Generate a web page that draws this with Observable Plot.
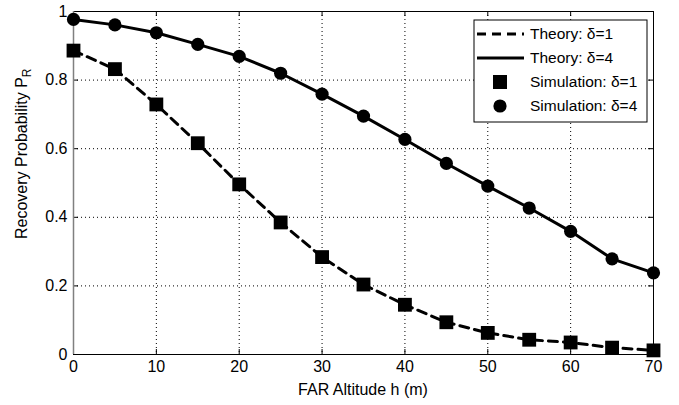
<!DOCTYPE html>
<html>
<head>
<meta charset="utf-8">
<script src="https://cdn.jsdelivr.net/npm/d3@7"></script>
<script src="https://cdn.jsdelivr.net/npm/@observablehq/plot@0.6"></script>
<style>
  html, body { margin: 0; padding: 0; background: #fff; }
</style>
</head>
<body>
<div id="chart"></div>
<script>
// ---- data ----
const altitude = [0, 5, 10, 15, 20, 25, 30, 35, 40, 45, 50, 55, 60, 65, 70];
const theoryD1 = [0.886, 0.832, 0.729, 0.616, 0.496, 0.385, 0.284, 0.204, 0.145, 0.094, 0.063, 0.043, 0.035, 0.020, 0.012];
const theoryD4 = [0.977, 0.961, 0.938, 0.904, 0.869, 0.820, 0.759, 0.695, 0.627, 0.557, 0.491, 0.427, 0.359, 0.279, 0.238];
const simD1    = [0.886, 0.832, 0.729, 0.616, 0.496, 0.385, 0.284, 0.204, 0.145, 0.094, 0.063, 0.043, 0.035, 0.020, 0.012];
const simD4    = [0.977, 0.961, 0.938, 0.904, 0.869, 0.820, 0.759, 0.695, 0.627, 0.557, 0.491, 0.427, 0.359, 0.279, 0.238];
const xTicks = [0, 10, 20, 30, 40, 50, 60, 70];
const yTicks = [0, 0.2, 0.4, 0.6, 0.8, 1];
const legendLabels = ["Theory: δ=1", "Theory: δ=4", "Simulation: δ=1", "Simulation: δ=4"];
const xLabel = "FAR Altitude h (m)";
const yLabel = "Recovery Probability P";
const yLabelSub = "R";

const W = 679, H = 405;
const mL = 73, mR = 26, mT = 11, mB = 51;
const innerW = W - mL - mR, innerH = H - mT - mB;

const rows = (ys) => altitude.map((h, i) => ({h, v: ys[i]}));
const tD1 = rows(theoryD1), tD4 = rows(theoryD4), sD1 = rows(simD1), sD4 = rows(simD4);
const innerX = xTicks.filter(d => d > 0 && d < 70);
const innerY = yTicks.filter(d => d > 0 && d < 1);

const font = "'Liberation Sans', Arial, Helvetica, sans-serif";

const chart = Plot.plot({
  width: W, height: H,
  marginLeft: mL, marginRight: mR, marginTop: mT, marginBottom: mB,
  style: {fontFamily: font, fontSize: "16px", color: "#000", background: "#fff"},
  x: {domain: [0, 70], ticks: xTicks, tickSize: 0, tickPadding: 6, label: null},
  y: {domain: [0, 1], ticks: yTicks, tickSize: 0, tickPadding: 6, tickFormat: d3.format("~g"), label: null},
  marks: [
    Plot.ruleX(innerX, {x: d => d, stroke: "#000", strokeWidth: 1, strokeDasharray: "1,3"}),
    Plot.ruleY(innerY, {y: d => d, stroke: "#000", strokeWidth: 1, strokeDasharray: "1,3"}),
    Plot.tickX(xTicks, {x: d => d, insetTop: innerH - 5, stroke: "#000"}),
    Plot.tickX(xTicks, {x: d => d, insetBottom: innerH - 5, stroke: "#000"}),
    Plot.tickY(yTicks, {y: d => d, insetRight: innerW - 5, stroke: "#000"}),
    Plot.tickY(yTicks, {y: d => d, insetLeft: innerW - 5, stroke: "#000"}),
    Plot.frame({stroke: "#000", strokeWidth: 1}),
    Plot.ruleX([0], {x: d => d, stroke: "#808080", strokeWidth: 1.5}),
    Plot.line(tD1, {x: "h", y: "v", stroke: "#000", strokeWidth: 3, strokeDasharray: "9,6"}),
    Plot.line(tD4, {x: "h", y: "v", stroke: "#000", strokeWidth: 3}),
    Plot.dot(sD1, {x: "h", y: "v", symbol: "square", r: 7.8, fill: "#000", stroke: "none"}),
    Plot.dot(sD4, {x: "h", y: "v", symbol: "circle", r: 6.6, fill: "#000", stroke: "none"})
  ]
});
document.getElementById("chart").appendChild(chart);

const svg = d3.select(chart);

// axis titles
svg.append("text")
  .attr("x", mL + innerW / 2).attr("y", 395)
  .attr("text-anchor", "middle")
  .attr("font-family", font).attr("font-size", 16).attr("fill", "#000")
  .text(xLabel);

const yl = svg.append("text")
  .attr("transform", "translate(27,239) rotate(-90)")
  .attr("text-anchor", "start")
  .attr("font-family", font).attr("font-size", 16).attr("fill", "#000");
yl.append("tspan").text(yLabel);
yl.append("tspan").attr("font-size", 12).attr("dy", 4).text(yLabelSub);

// legend
const lg = svg.append("g");
const lx = 474, ly = 20, lw = 173, lh = 102;
lg.append("rect").attr("x", lx).attr("y", ly).attr("width", lw).attr("height", lh)
  .attr("fill", "#fff").attr("stroke", "#000").attr("stroke-width", 1);
const rowY = [34, 58, 82, 106];
legendLabels.forEach((label, i) => {
  const y = rowY[i];
  if (i === 0) {
    lg.append("line").attr("x1", 477).attr("x2", 524).attr("y1", y).attr("y2", y)
      .attr("stroke", "#000").attr("stroke-width", 3).attr("stroke-dasharray", "9,6");
  } else if (i === 1) {
    lg.append("line").attr("x1", 477).attr("x2", 524).attr("y1", y).attr("y2", y)
      .attr("stroke", "#000").attr("stroke-width", 3);
  } else if (i === 2) {
    lg.append("rect").attr("x", 500 - 7).attr("y", y - 7).attr("width", 14).attr("height", 14).attr("fill", "#000");
  } else {
    lg.append("circle").attr("cx", 500).attr("cy", y).attr("r", 6.6).attr("fill", "#000");
  }
  lg.append("text").attr("x", 530).attr("y", y).attr("dy", "0.35em")
    .attr("text-anchor", "start")
    .attr("font-family", font).attr("font-size", 15.5).attr("fill", "#000")
    .text(label);
});
</script>
</body>
</html>
